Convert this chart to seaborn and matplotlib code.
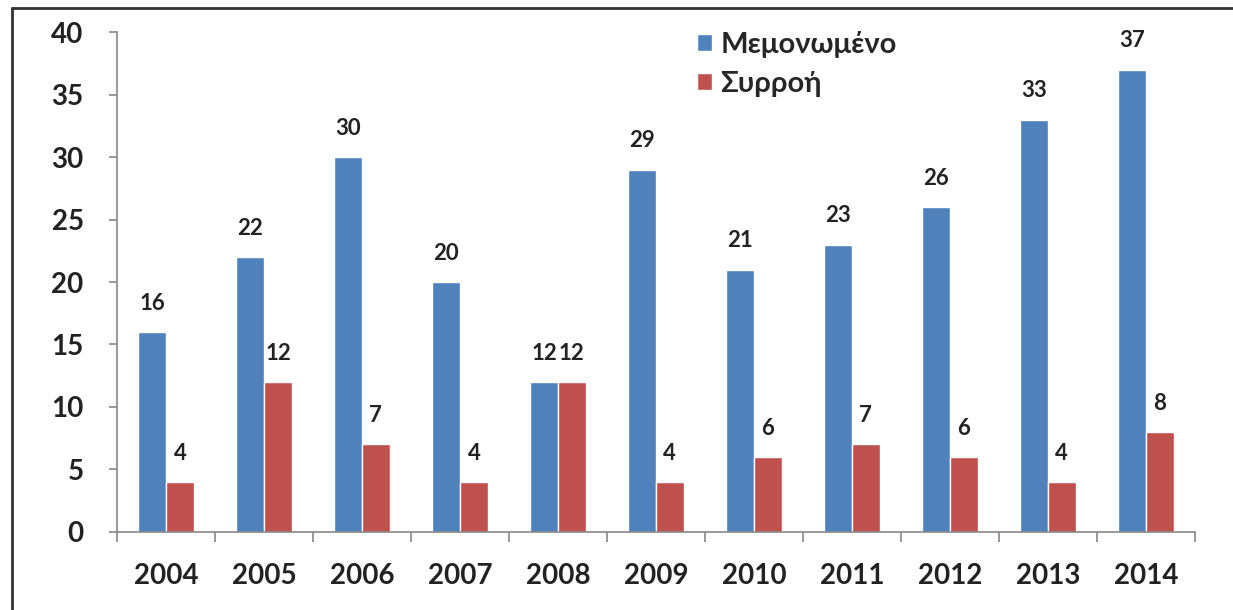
import pandas as pd
import matplotlib.pyplot as plt
import numpy as np
import seaborn as sns
from matplotlib.lines import Line2D

years = ['2004', '2005', '2006', '2007', '2008', '2009',
         '2010', '2011', '2012', '2013', '2014']
isolated = [16, 22, 30, 20, 12, 29, 21, 23, 26, 33, 37]
cluster = [4, 12, 7, 4, 12, 4, 6, 7, 6, 4, 8]
series_names = ['Μεμονωμένο', 'Συρροή']
colors = ['#4F81BD', '#C0504D']

df = pd.DataFrame({'year': years * 2,
                   'value': isolated + cluster,
                   'series': [series_names[0]] * len(years) + [series_names[1]] * len(years)})

sns.set_style('white')
plt.rcParams['font.family'] = ['Lato', 'DejaVu Sans']

fig = plt.figure(figsize=(12.33, 6.10), dpi=100)
ax = fig.add_axes([0.0949, 0.1279, 0.969 - 0.0949, 0.9475 - 0.1279])

sns.barplot(data=df, x='year', y='value', hue='series',
            palette=colors, width=0.57, gap=0, ax=ax,
            saturation=1, errorbar=None)

for cont in ax.containers:
    ax.bar_label(cont, padding=13, fontsize=16, fontweight='bold',
                 color='#222222')

ax.set_ylim(0, 40)
ax.set_xlim(-0.5, len(years) - 0.5)
ax.set_yticks(np.arange(0, 41, 5))
ax.set_xlabel('')
ax.set_ylabel('')

for s in ['top', 'right']:
    ax.spines[s].set_visible(False)
for s in ['left', 'bottom']:
    ax.spines[s].set_color('#888888')
    ax.spines[s].set_linewidth(1.2)

ax.tick_params(axis='y', which='major', direction='out', length=6, width=1.2,
               color='#888888', labelsize=20, pad=18, left=True)
ax.tick_params(axis='x', which='major', length=0, labelsize=20, pad=22)
ax.set_xticks(np.arange(-0.5, len(years), 1), minor=True)
ax.tick_params(axis='x', which='minor', direction='out', length=7, width=1.2,
               color='#888888', bottom=True)
for lab in ax.get_xticklabels() + ax.get_yticklabels():
    lab.set_fontweight('bold')
    lab.set_color('#222222')

handles, labels = ax.get_legend_handles_labels()
ax.legend(handles, labels, loc='upper left', bbox_to_anchor=(0.514, 1.055),
          frameon=False, handlelength=0.5, handleheight=0.5,
          handletextpad=0.3, labelspacing=0.45,
          prop={'weight': 'bold', 'size': 21})

# outer frame of the picture (left and top edges)
fig.add_artist(Line2D([12 / 1233, 12 / 1233], [0, 1 - 8 / 610],
                      transform=fig.transFigure, color='#333333', lw=2))
fig.add_artist(Line2D([12 / 1233, 1], [1 - 8 / 610, 1 - 8 / 610],
                      transform=fig.transFigure, color='#333333', lw=2))

fig.savefig('out.png', dpi=100)
